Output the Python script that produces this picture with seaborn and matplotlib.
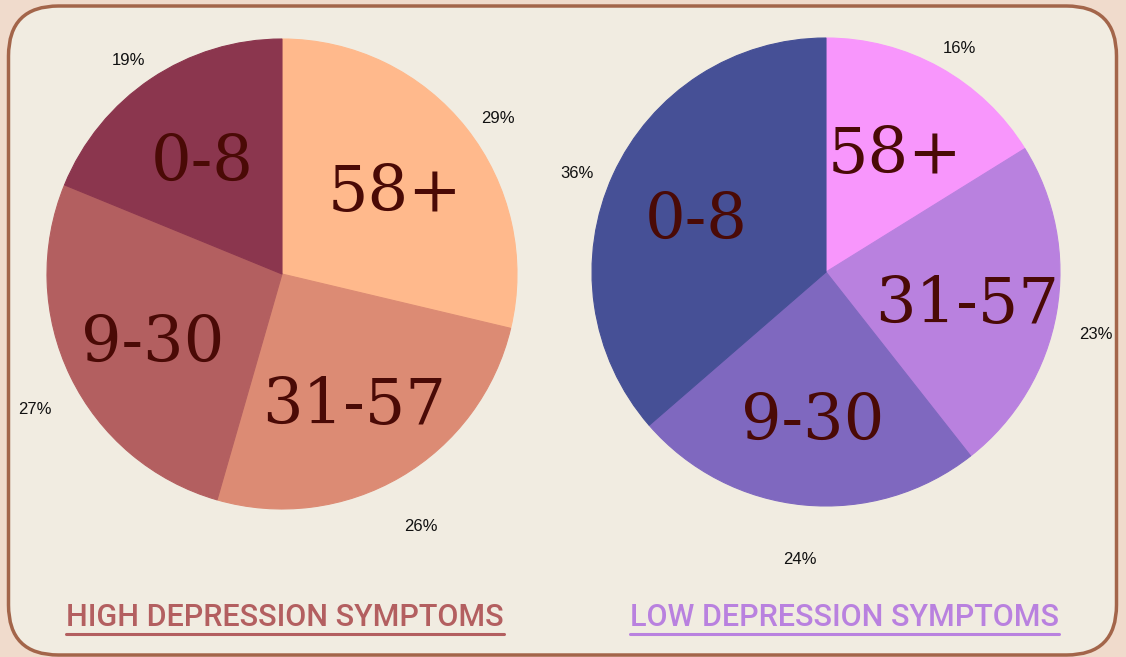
import numpy as np
import matplotlib
matplotlib.use("Agg")
import matplotlib.pyplot as plt
import seaborn as sns
from matplotlib.patches import FancyBboxPatch
from matplotlib.lines import Line2D

# age groups, clockwise from the top of each pie
age_groups = ["58+", "31-57", "9-30", "0-8"]
high_share = [29, 26, 27, 19]
low_share = [16, 23, 24, 36]

high_colors = ["#ffb98c", "#dc8b74", "#b35f60", "#8b364e"]
low_colors = ["#f896fc", "#b981df", "#7f68bf", "#465096"]

high_title = "HIGH DEPRESSION SYMPTOMS"
low_title = "LOW DEPRESSION SYMPTOMS"

sns.set_theme(style="white")
plt.rcParams["font.family"] = ["DejaVu Sans"]

W, H, DPI = 1126, 657, 100
fig = plt.figure(figsize=(W / DPI, H / DPI), dpi=DPI)
fig.patch.set_facecolor("#f0dbcc")

# rounded panel (inch coordinates so the corners stay round)
panel = FancyBboxPatch((0.085, 0.02), 11.08, 6.49,
                       boxstyle="round,pad=0,rounding_size=0.5",
                       transform=fig.dpi_scale_trans, zorder=-5,
                       facecolor="#f1ece1", edgecolor="#a3654a", linewidth=2.5)
fig.patches.append(panel)


def draw_pie(cx, cy, r, shares, colors, title, title_x, title_color):
    ax = fig.add_axes([(cx - r) / W, (H - cy - r) / H, 2 * r / W, 2 * r / H])
    ax.set_zorder(2)
    wedges, _ = ax.pie(shares, colors=sns.color_palette(colors), startangle=90,
                       counterclock=False, radius=1,
                       wedgeprops={"linewidth": 0.8})
    for w in wedges:
        w.set_edgecolor(w.get_facecolor())
    ax.set_xlim(-1, 1)
    ax.set_ylim(-1, 1)
    ax.set_aspect("equal")
    ax.axis("off")
    for w, grp, val in zip(wedges, age_groups, shares):
        mid = np.deg2rad((w.theta1 + w.theta2) / 2)
        ax.annotate(grp, (0.61 * np.cos(mid), 0.61 * np.sin(mid)),
                    xytext=(0, -6), textcoords="offset points",
                    ha="center", va="center", fontsize=46, color="#4a0a06",
                    family="DejaVu Serif")
        ax.annotate(f"{val}%", (1.17 * np.cos(mid), 1.17 * np.sin(mid)),
                    xytext=(0, -11), textcoords="offset points",
                    ha="center", va="center", fontsize=12, color="#111111",
                    family="Liberation Sans", annotation_clip=False)
    t = fig.text(title_x / W, 1 - 617 / H, title, ha="center", va="center",
                 fontsize=22, color=title_color, family="Roboto",
                 fontweight="medium")
    return t


t1 = draw_pie(282, 274, 235, high_share, high_colors, high_title, 285, "#b35f60")
t2 = draw_pie(826, 272, 234, low_share, low_colors, low_title, 844, "#b981df")

# underline the titles
fig.canvas.draw()
r = fig.canvas.get_renderer()
for t in (t1, t2):
    bb = t.get_window_extent(renderer=r)
    y = bb.y0 - 2
    fig.lines.append(Line2D([bb.x0 / W, bb.x1 / W], [y / H, y / H],
                            transform=fig.transFigure, color=t.get_color(),
                            linewidth=2.2))

fig.savefig("out.png", dpi=DPI, facecolor=fig.get_facecolor())
